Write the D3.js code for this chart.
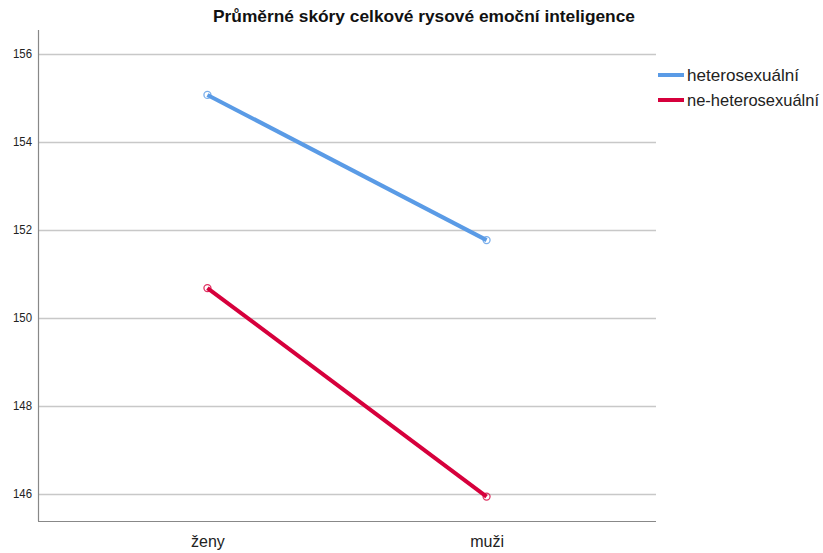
<!DOCTYPE html>
<html>
<head>
<meta charset="utf-8">
<script src="https://cdn.jsdelivr.net/npm/d3@7"></script>
<style>
  body { margin: 0; background: #fff; }
  svg { font-family: Arial, "Liberation Sans", sans-serif; }
</style>
</head>
<body>
<div id="chart"></div>
<script>
// Data
const categories = ['ženy', 'muži'];
const seriesNames = ['heterosexuální', 'ne-heterosexuální'];
const heteroValues = [155.07, 151.77];
const nonHeteroValues = [150.68, 145.94];
const yTicks = [146, 148, 150, 152, 154, 156];
const title = 'Průměrné skóry celkové rysové emoční inteligence';

const colors = ['#5a9be6', '#d6003c'];
const series = [heteroValues, nonHeteroValues];

const W = 823, H = 553;
const plot = { left: 38, right: 656, top: 30, bottom: 521 };

const svg = d3.select('#chart').append('svg')
  .attr('width', W)
  .attr('height', H);

const x = d3.scalePoint()
  .domain(categories)
  .range([plot.left, plot.right])
  .padding(0.607);

const y = d3.scaleLinear()
  .domain([145.386, 156.545])
  .range([plot.bottom, plot.top]);

// gridlines
svg.append('g')
  .selectAll('line')
  .data(yTicks)
  .join('line')
  .attr('x1', plot.left)
  .attr('x2', plot.right)
  .attr('y1', d => Math.round(y(d)) + 0.5)
  .attr('y2', d => Math.round(y(d)) + 0.5)
  .attr('stroke', '#c8c8c8')
  .attr('stroke-width', 1.5);

// y axis
const yAxis = svg.append('g')
  .attr('transform', `translate(${plot.left},0)`)
  .call(d3.axisLeft(y).tickValues(yTicks).tickSize(0).tickPadding(6).tickFormat(d3.format('d')));
yAxis.select('.domain').remove();
yAxis.selectAll('text')
  .attr('font-size', '12px')
  .attr('fill', '#222')
  .attr('textLength', 19)
  .attr('lengthAdjust', 'spacingAndGlyphs');

// x axis
const xAxis = svg.append('g')
  .attr('transform', `translate(0,${plot.bottom})`)
  .call(d3.axisBottom(x).tickSize(0).tickPadding(15));
xAxis.select('.domain').remove();
xAxis.selectAll('text')
  .attr('font-size', '16px')
  .attr('fill', '#222');

// axis frame lines
svg.append('line')
  .attr('x1', plot.left + 0.5).attr('x2', plot.left + 0.5)
  .attr('y1', plot.top).attr('y2', plot.bottom)
  .attr('stroke', '#888').attr('stroke-width', 1.2);
svg.append('line')
  .attr('x1', plot.left).attr('x2', plot.right)
  .attr('y1', plot.bottom + 0.5).attr('y2', plot.bottom + 0.5)
  .attr('stroke', '#888').attr('stroke-width', 1.2);

// lines + markers
const line = d3.line()
  .x((d, i) => x(categories[i]))
  .y(d => y(d));

series.forEach((vals, s) => {
  svg.append('path')
    .datum(vals)
    .attr('fill', 'none')
    .attr('stroke', colors[s])
    .attr('stroke-width', 4)
    .attr('d', line);

  svg.append('g')
    .selectAll('circle')
    .data(vals)
    .join('circle')
    .attr('cx', (d, i) => x(categories[i]))
    .attr('cy', d => y(d))
    .attr('r', 3.5)
    .attr('fill', 'none')
    .attr('stroke', colors[s])
    .attr('stroke-opacity', 0.8)
    .attr('stroke-width', 1.3);
});

// title
svg.append('text')
  .attr('x', 424)
  .attr('y', 22)
  .attr('text-anchor', 'middle')
  .attr('font-size', '17px')
  .attr('font-weight', 'bold')
  .attr('fill', '#111')
  .attr('textLength', 422)
  .attr('lengthAdjust', 'spacingAndGlyphs')
  .text(title);

// legend
const legend = svg.append('g').attr('transform', 'translate(658,75)');
seriesNames.forEach((name, i) => {
  const g = legend.append('g').attr('transform', `translate(0,${i * 25})`);
  g.append('line')
    .attr('x1', 0).attr('x2', 26)
    .attr('y1', 0).attr('y2', 0)
    .attr('stroke', colors[i])
    .attr('stroke-width', 4);
  g.append('text')
    .attr('x', 29)
    .attr('y', 6)
    .attr('font-size', '17px')
    .attr('fill', '#222')
    .attr('textLength', i === 0 ? 112 : 132)
    .attr('lengthAdjust', 'spacingAndGlyphs')
    .text(name);
});
</script>
</body>
</html>
